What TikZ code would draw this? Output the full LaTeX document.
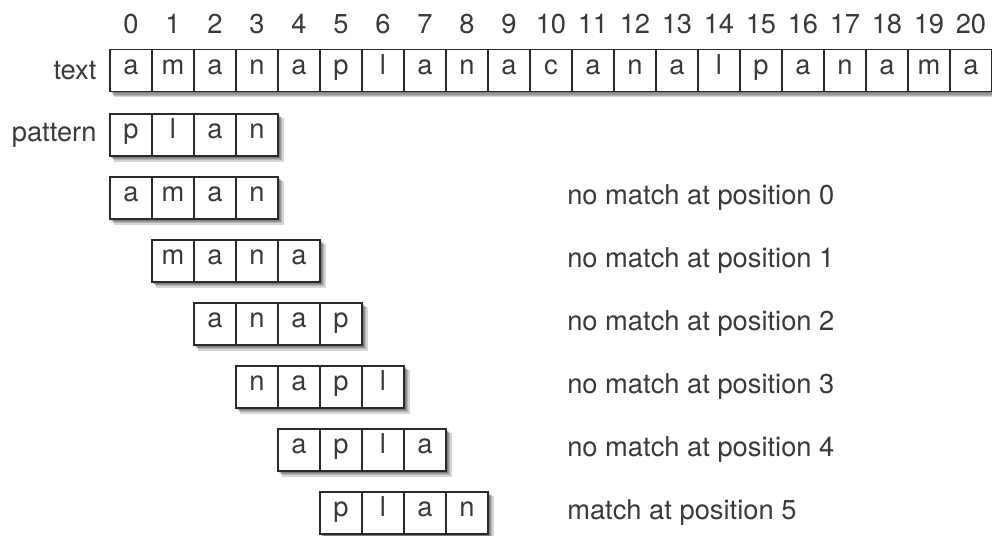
\documentclass[tikz,border=0pt]{standalone}
\usepackage{fontspec}
\setmainfont{TeX Gyre Heros}
\usetikzlibrary{positioning, backgrounds}
\definecolor{inkgray}{HTML}{3A3A3A}
\definecolor{boxline}{HTML}{2A2A2A}

\tikzset{
  cell/.style={draw=boxline, line width=0.9pt, fill=white,
    minimum width=1cm, minimum height=1cm, inner sep=0pt,
    text=inkgray, font=\fontsize{18.5}{22}\selectfont,
    text height=0.72em, text depth=0.2em},
  idx/.style={text=inkgray, font=\fontsize{18.5}{22}\selectfont, inner sep=0pt,
    text height=0.72em, text depth=0pt},
  rowlabel/.style={text=inkgray, font=\fontsize{18.5}{22}\selectfont, inner sep=0pt},
  result/.style={text=inkgray, font=\fontsize{18.5}{22}\selectfont, inner sep=0pt, anchor=west}
}
% soft shadow behind a row of cells
\newcommand{\rowshadow}[2]{%
  \begin{scope}[on background layer]
    \foreach \s in {0.03,0.06,0.09,0.12}
      \fill[black, opacity=0.16] ([shift={(\s,-\s)}]#1.north west) rectangle ([shift={(\s,-\s)}]#2.south east);
  \end{scope}}

\begin{document}
\begin{tikzpicture}
  \begin{scope}[on background layer]
    \fill[white] (0,0) rectangle (23.62,-12.76);
  \end{scope}
  \useasboundingbox (0,0) rectangle (23.62,-12.76);

  % Text row with positions above
  \foreach \c [count=\i from 0] in {a,m,a,n,a,p,l,a,n,a,c,a,n,a,l,p,a,n,a,m,a}{
    \node[cell] (t\i) at (3.119+\i, -1.679) {\c};
    \node[idx, above=0.35 of t\i] (n\i) {\i};
  }
  \node[rowlabel, left=0.3 of t0] (textlbl) {text};
  \rowshadow{t0}{t20}

  % Pattern
  \foreach \c [count=\j from 0] in {p,l,a,n}{
    \node[cell] (p\j) at (3.119+\j, -3.214) {\c};
  }
  \node[rowlabel, left=0.3 of p0] (patlbl) {pattern};
  \rowshadow{p0}{p3}

  % Windows tried at each shift
  \foreach \word/\msg [count=\k from 0] in {
      {a,m,a,n}/{no match at position 0},
      {m,a,n,a}/{no match at position 1},
      {a,n,a,p}/{no match at position 2},
      {n,a,p,l}/{no match at position 3},
      {a,p,l,a}/{no match at position 4},
      {p,l,a,n}/{match at position 5}}{
    \foreach \c [count=\j from 0] in \word{
      \node[cell] (r\k-\j) at (3.119+\k+\j, -4.714-1.5*\k) {\c};
    }
    \node[result] (res\k) at (13.5, -4.714-1.5*\k) {\msg};
    \rowshadow{r\k-0}{r\k-3}
  }
\end{tikzpicture}
\end{document}
